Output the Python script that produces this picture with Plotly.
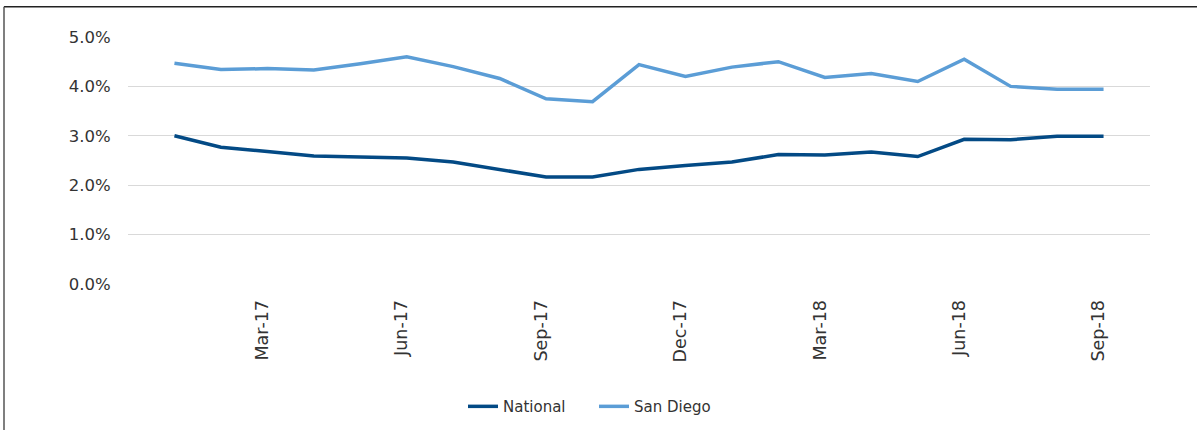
import plotly.graph_objects as go

months = ["Jan-17", "Feb-17", "Mar-17", "Apr-17", "May-17", "Jun-17", "Jul-17",
          "Aug-17", "Sep-17", "Oct-17", "Nov-17", "Dec-17", "Jan-18", "Feb-18",
          "Mar-18", "Apr-18", "May-18", "Jun-18", "Jul-18", "Aug-18", "Sep-18"]
national = [3.00, 2.77, 2.68, 2.59, 2.57, 2.55, 2.47, 2.31, 2.165, 2.165,
            2.32, 2.40, 2.47, 2.62, 2.61, 2.67, 2.58, 2.93, 2.92, 2.99, 2.99]
san_diego = [4.47, 4.34, 4.36, 4.33, 4.46, 4.60, 4.40, 4.16, 3.75, 3.69,
             4.44, 4.20, 4.39, 4.50, 4.18, 4.26, 4.10, 4.55, 4.00, 3.94, 3.94]
tick_labels = ["Mar-17", "Jun-17", "Sep-17", "Dec-17", "Mar-18", "Jun-18", "Sep-18"]
y_ticks = [0, 1, 2, 3, 4, 5]

FONT = "DejaVu Sans"
TEXT = "#333333"

fig = go.Figure()
fig.add_trace(go.Scatter(x=months, y=[v / 100 for v in national], mode="lines",
                         name="National", line=dict(color="#034A85", width=3.5)))
fig.add_trace(go.Scatter(x=months, y=[v / 100 for v in san_diego], mode="lines",
                         name="San Diego", line=dict(color="#5B9DD6", width=3.5)))

W, H = 1197, 430
L, R, T, B = 128, 1150, 37.3, 283.7

def px_x(p):
    return (p - L) / (R - L)

def px_y(p):
    return (B - p) / (B - T)

fig.update_layout(
    width=W, height=H,
    margin=dict(l=L, r=W - R, t=T, b=H - B, pad=0, autoexpand=False),
    paper_bgcolor="white", plot_bgcolor="white",
    font=dict(family=FONT, color=TEXT, size=15),
    showlegend=True,
    legend=dict(orientation="h", x=px_x(594), y=px_y(406), xanchor="center",
                yanchor="middle", font=dict(size=15, family=FONT, color=TEXT),
                itemwidth=30, tracegroupgap=0, entrywidth=86),
    xaxis=dict(type="category", range=[-1, 21], tickmode="array",
               tickvals=tick_labels, ticktext=tick_labels, tickangle=-90,
               showgrid=False, zeroline=False, showline=False,
               ticks="outside", ticklen=8, tickcolor="rgba(0,0,0,0)",
               ticklabelshift=-5, automargin=False,
               tickfont=dict(size=17.5, family=FONT, color=TEXT)),
    yaxis=dict(range=[0, 0.05], tickmode="array", tickvals=[v / 100 for v in y_ticks],
               tickformat=".1%", showgrid=True, gridcolor="#d9d9d9", gridwidth=1,
               zeroline=False, showline=False, automargin=False,
               ticks="outside", ticklen=13, tickcolor="rgba(0,0,0,0)",
               tickfont=dict(size=16.5, family=FONT, color=TEXT)),
    shapes=[
        dict(type="line", xref="paper", yref="paper", x0=px_x(4), x1=px_x(1197),
             y0=px_y(7), y1=px_y(7), line=dict(color="#222222", width=1.5)),
        dict(type="line", xref="paper", yref="paper", x0=px_x(4), x1=px_x(4),
             y0=px_y(7), y1=px_y(430), line=dict(color="#555555", width=1.5)),
    ],
)

fig.write_html("out.html", config={"displayModeBar": False},
               post_script=("document.documentElement.style.overflow='hidden';"
                            "document.body.style.margin='0';"
                            "document.body.style.padding='0';"
                            "document.body.style.overflow='hidden';"))
